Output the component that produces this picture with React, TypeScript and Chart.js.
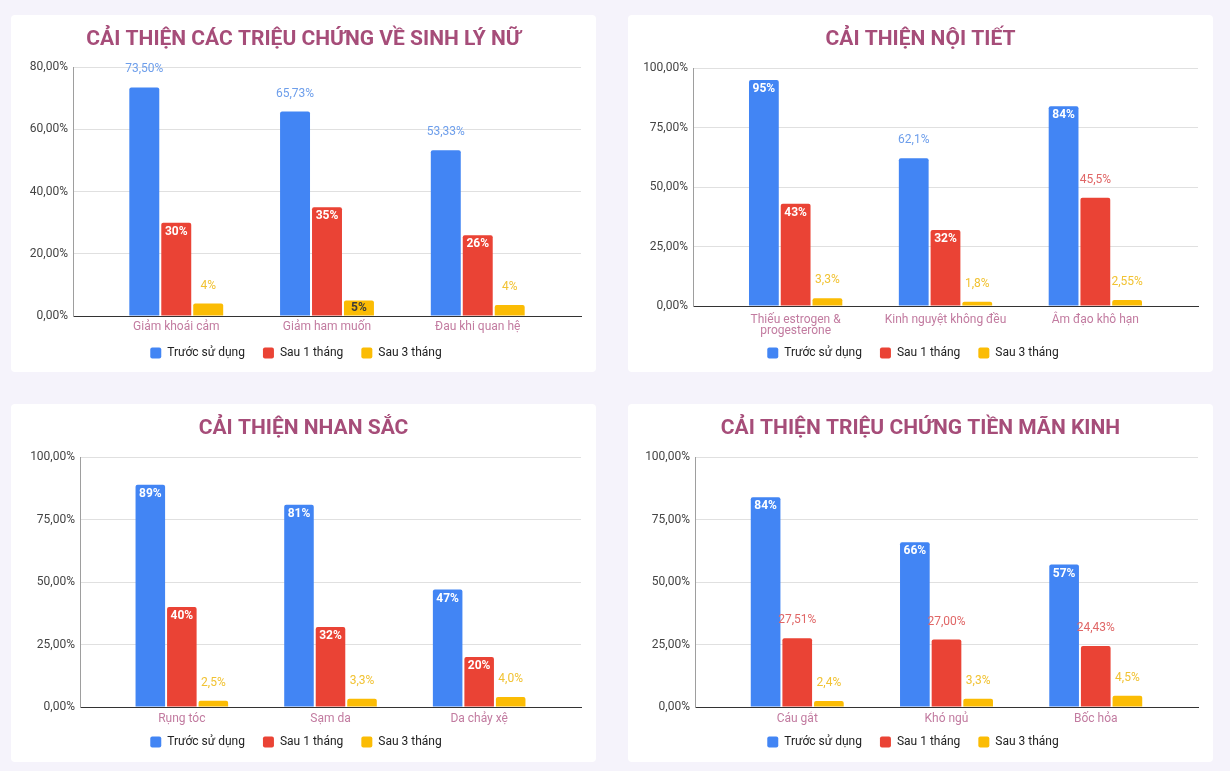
import React, { useEffect, useRef } from "react";
import { Chart, registerables } from "chart.js";

Chart.register(...registerables);
Chart.defaults.font.family = "Roboto, 'Open Sans', sans-serif";

// ---------- Shared ----------
const SERIES_NAMES = ["Trước sử dụng", "Sau 1 tháng", "Sau 3 tháng"];
const SERIES_COLORS = ["#4285f4", "#ea4335", "#fbbc04"];
const OUTSIDE_LABEL_COLORS = ["#6d9eeb", "#e06666", "#f1c232"];
const INSIDE_LABEL_COLORS = ["#ffffff", "#ffffff", "#3c3c3c"];

// ---------- Chart 1: Sinh lý nữ ----------
const SL_TITLE = "CẢI THIỆN CÁC TRIỆU CHỨNG VỀ SINH LÝ NỮ";
const SL_CATEGORIES = ["Giảm khoái cảm", "Giảm ham muốn", "Đau khi quan hệ"];
const SL_BEFORE = [73.5, 65.73, 53.33];
const SL_MONTH1 = [30, 35, 26];
const SL_MONTH3 = [4, 5, 3.5];
const SL_BEFORE_TEXT = ["73,50%", "65,73%", "53,33%"];
const SL_MONTH1_TEXT = ["30%", "35%", "26%"];
const SL_MONTH3_TEXT = ["4%", "5%", "4%"];
const SL_Y_MAX = 80;
const SL_Y_STEP = 20;

// ---------- Chart 2: Nội tiết ----------
const NT_TITLE = "CẢI THIỆN NỘI TIẾT";
const NT_CATEGORIES = [["Thiếu estrogen &", "progesterone"], "Kinh nguyệt không đều", "Âm đạo khô hạn"];
const NT_BEFORE = [95, 62.1, 84];
const NT_MONTH1 = [43, 32, 45.5];
const NT_MONTH3 = [3.3, 1.8, 2.55];
const NT_BEFORE_TEXT = ["95%", "62,1%", "84%"];
const NT_MONTH1_TEXT = ["43%", "32%", "45,5%"];
const NT_MONTH3_TEXT = ["3,3%", "1,8%", "2,55%"];
const NT_Y_MAX = 100;
const NT_Y_STEP = 25;

// ---------- Chart 3: Nhan sắc ----------
const NS_TITLE = "CẢI THIỆN NHAN SẮC";
const NS_CATEGORIES = ["Rụng tóc", "Sạm da", "Da chảy xệ"];
const NS_BEFORE = [89, 81, 47];
const NS_MONTH1 = [40, 32, 20];
const NS_MONTH3 = [2.5, 3.3, 4.0];
const NS_BEFORE_TEXT = ["89%", "81%", "47%"];
const NS_MONTH1_TEXT = ["40%", "32%", "20%"];
const NS_MONTH3_TEXT = ["2,5%", "3,3%", "4,0%"];
const NS_Y_MAX = 100;
const NS_Y_STEP = 25;

// ---------- Chart 4: Tiền mãn kinh ----------
const MK_TITLE = "CẢI THIỆN TRIỆU CHỨNG TIỀN MÃN KINH";
const MK_CATEGORIES = ["Cáu gắt", "Khó ngủ", "Bốc hỏa"];
const MK_BEFORE = [84, 66, 57];
const MK_MONTH1 = [27.51, 27.0, 24.43];
const MK_MONTH3 = [2.4, 3.3, 4.5];
const MK_BEFORE_TEXT = ["84%", "66%", "57%"];
const MK_MONTH1_TEXT = ["27,51%", "27,00%", "24,43%"];
const MK_MONTH3_TEXT = ["2,4%", "3,3%", "4,5%"];
const MK_Y_MAX = 100;
const MK_Y_STEP = 25;

// label placement (style): true = inside bar, false = above bar
const SL_INSIDE = [[false, false, false], [true, true, true], [false, true, false]];
const NT_INSIDE = [[true, false, true], [true, true, false], [false, false, false]];
const NS_INSIDE = [[true, true, true], [true, true, true], [false, false, false]];
const MK_INSIDE = [[true, true, true], [false, false, false], [false, false, false]];

type PanelSpec = {
  title: string;
  categories: any[];
  values: number[][];
  texts: string[][];
  inside: boolean[][];
  yMax: number;
  yStep: number;
  left: number;
  top: number;
  width: number;
  height: number;
  yAxisW: number;
  titleBottom: number;
  xAxisH: number;
  xTickPad: number;
  bottomPad: number;
  labelLineHeight: number;
};

const valueLabelPlugin = {
  id: "valueLabels",
  afterLayout(chart: any) {
    // let the category labels overflow below the compact x-axis box
    const xs = chart.scales.x;
    if (xs) xs.bottom = chart.height;
    // centre the title on the whole panel
    if (chart.titleBlock) {
      chart.titleBlock.left = 0;
      chart.titleBlock.right = chart.width;
    }
  },
  afterDatasetsDraw(chart: any) {
    const ctx = chart.ctx;
    chart.data.datasets.forEach((ds: any, di: number) => {
      const meta = chart.getDatasetMeta(di);
      meta.data.forEach((bar: any, i: number) => {
        const text = ds._texts[i];
        const inside = ds._inside[i];
        ctx.save();
        ctx.textAlign = "center";
        ctx.textBaseline = "middle";
        if (inside) {
          ctx.font = "bold 12px Roboto, sans-serif";
          ctx.fillStyle = INSIDE_LABEL_COLORS[di];
          const h = bar.base - bar.y;
          const dy = Math.min(9, h / 2);
          ctx.fillText(text, bar.x, bar.y + dy);
        } else {
          ctx.font = "12px Roboto, sans-serif";
          ctx.fillStyle = OUTSIDE_LABEL_COLORS[di];
          ctx.fillText(text, bar.x, bar.y - 18);
        }
        ctx.restore();
      });
    });
  },
};

const fmtPct = (v: number) => v.toFixed(2).replace(".", ",") + "%";

function ChartPanel({ spec }: { spec: PanelSpec }) {
  const ref = useRef<HTMLCanvasElement | null>(null);
  useEffect(() => {
    if (!ref.current) return;
    const datasets = SERIES_NAMES.map((name, si) => ({
      label: name,
      data: spec.values[si],
      backgroundColor: SERIES_COLORS[si],
      borderWidth: 0,
      borderRadius: 2,
      borderSkipped: "bottom",
      categoryPercentage: 0.636,
      barPercentage: 0.9375,
      _texts: spec.texts[si],
      _inside: spec.inside[si],
    }));
    const chart = new Chart(ref.current, {
      type: "bar",
      data: { labels: spec.categories, datasets: datasets as any },
      plugins: [valueLabelPlugin],
      options: {
        animation: false,
        responsive: false,
        maintainAspectRatio: false,
        layout: { padding: { left: 0, right: 15, top: 0, bottom: spec.bottomPad } },
        plugins: {
          tooltip: { enabled: false },
          title: {
            display: true,
            text: spec.title,
            color: "#a64d79",
            font: { size: 21, weight: "bold" },
            padding: { top: 12, bottom: spec.titleBottom },
          },
          legend: {
            display: true,
            position: "bottom",
            labels: {
              boxWidth: 11,
              boxHeight: 11,
              padding: 18,
              color: "#222222",
              font: { size: 12 },
              useBorderRadius: true,
              borderRadius: 2,
            },
          },
        },
        scales: {
          x: {
            type: "category",
            offset: true,
            grid: { color: "rgba(0,0,0,0)", drawTicks: false },
            border: { color: "#333333", width: 1 },
            ticks: {
              color: "#c27ba0",
              font: { size: 12, lineHeight: spec.labelLineHeight },
              padding: spec.xTickPad,
              maxRotation: 0,
              autoSkip: false,
            },
            afterBuildTicks: (s: any) => {
              s._startValue = -0.685;
              s._valueRange = 3.37;
            },
            afterFit: (s: any) => {
              s.height = spec.xAxisH;
            },
          },
          y: {
            min: 0,
            max: spec.yMax,
            grid: { color: "#e0e0e0", drawTicks: false },
            border: { color: "#9e9e9e", width: 1 },
            ticks: {
              stepSize: spec.yStep,
              color: "#444444",
              font: { size: 12 },
              padding: 5,
              callback: (v: any) => fmtPct(Number(v)),
            },
            afterFit: (s: any) => {
              s.width = spec.yAxisW;
            },
          },
        },
      } as any,
    });
    return () => chart.destroy();
  }, [spec]);
  return (
    <div
      style={{
        position: "absolute",
        left: spec.left,
        top: spec.top,
        width: spec.width,
        height: spec.height,
        background: "#ffffff",
        borderRadius: 4,
        overflow: "hidden",
      }}
    >
      <canvas ref={ref} width={spec.width} height={spec.height} style={{ display: "block" }} />
    </div>
  );
}

const PANELS: PanelSpec[] = [
  {
    title: SL_TITLE, categories: SL_CATEGORIES,
    values: [SL_BEFORE, SL_MONTH1, SL_MONTH3],
    texts: [SL_BEFORE_TEXT, SL_MONTH1_TEXT, SL_MONTH3_TEXT],
    inside: SL_INSIDE, yMax: SL_Y_MAX, yStep: SL_Y_STEP,
    left: 11, top: 15, width: 585, height: 357,
    yAxisW: 62, titleBottom: 15, xAxisH: 13, xTickPad: 4, bottomPad: 3, labelLineHeight: 1.2,
  },
  {
    title: NT_TITLE, categories: NT_CATEGORIES,
    values: [NT_BEFORE, NT_MONTH1, NT_MONTH3],
    texts: [NT_BEFORE_TEXT, NT_MONTH1_TEXT, NT_MONTH3_TEXT],
    inside: NT_INSIDE, yMax: NT_Y_MAX, yStep: NT_Y_STEP,
    left: 628, top: 15, width: 585, height: 357,
    yAxisW: 65, titleBottom: 16, xAxisH: 23, xTickPad: 8, bottomPad: 3, labelLineHeight: 0.95,
  },
  {
    title: NS_TITLE, categories: NS_CATEGORIES,
    values: [NS_BEFORE, NS_MONTH1, NS_MONTH3],
    texts: [NS_BEFORE_TEXT, NS_MONTH1_TEXT, NS_MONTH3_TEXT],
    inside: NS_INSIDE, yMax: NS_Y_MAX, yStep: NS_Y_STEP,
    left: 11, top: 404, width: 585, height: 358,
    yAxisW: 69, titleBottom: 16, xAxisH: 11, xTickPad: 5, bottomPad: 4, labelLineHeight: 1.2,
  },
  {
    title: MK_TITLE, categories: MK_CATEGORIES,
    values: [MK_BEFORE, MK_MONTH1, MK_MONTH3],
    texts: [MK_BEFORE_TEXT, MK_MONTH1_TEXT, MK_MONTH3_TEXT],
    inside: MK_INSIDE, yMax: MK_Y_MAX, yStep: MK_Y_STEP,
    left: 628, top: 404, width: 585, height: 358,
    yAxisW: 67, titleBottom: 16, xAxisH: 11, xTickPad: 5, bottomPad: 4, labelLineHeight: 1.2,
  },
];

export default function App() {
  return (
    <div
      style={{
        position: "absolute",
        left: 0,
        top: 0,
        width: 1230,
        height: 771,
        background: "#f5f3fb",
        overflow: "hidden",
      }}
    >
      {PANELS.map((p, i) => (
        <ChartPanel key={i} spec={p} />
      ))}
    </div>
  );
}
